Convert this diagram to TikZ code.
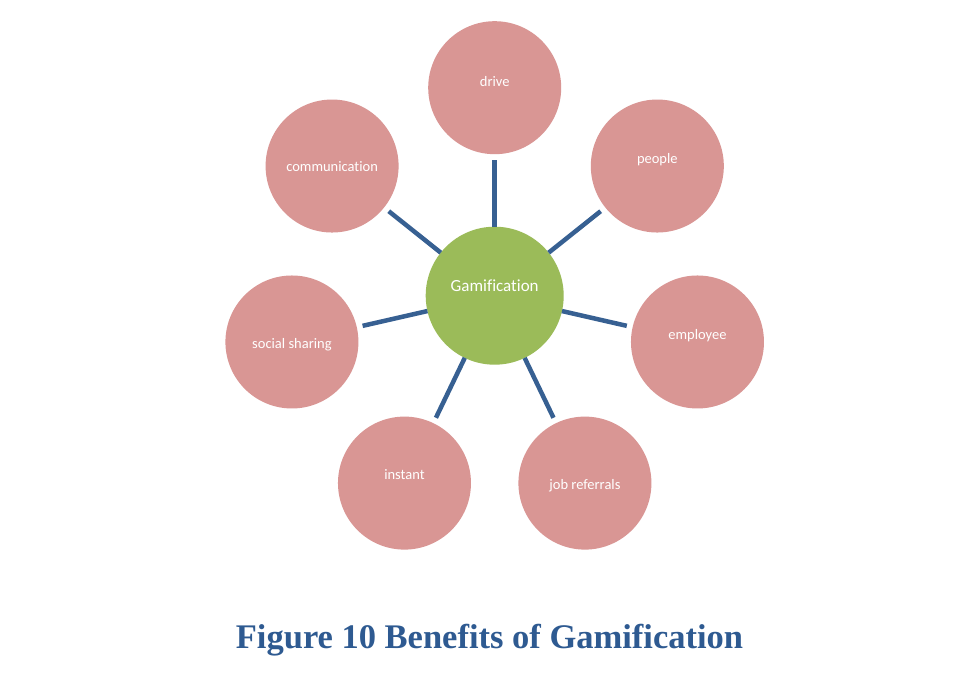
\documentclass[tikz,border=0pt]{standalone}
\usepackage{fontspec}
\setmainfont[Ligatures={NoCommon}]{Carlito}
\newfontfamily\capfont{Liberation Serif}
\definecolor{pinkc}{RGB}{217,150,148}
\definecolor{greenc}{RGB}{155,187,89}
\definecolor{spokec}{RGB}{55,96,146}
\definecolor{capc}{RGB}{46,90,145}
\begin{document}
\begin{tikzpicture}[x=1pt,y=1pt,
  outer/.style={circle,fill=pinkc,draw=none,inner sep=0pt,outer sep=0pt,minimum size=133pt},
  hub/.style={circle,fill=greenc,draw=none,inner sep=0pt,outer sep=0pt,minimum size=138pt},
  lbl/.style={text=white,font=\fontsize{14.5}{16}\selectfont,anchor=base,inner sep=0pt},
  hublbl/.style={text=white,font=\fontsize{17}{20}\selectfont,anchor=base,inner sep=0pt},
  spoke/.style={draw=spokec,line width=4.5pt,shorten >=6pt}]
\fill[white] (0,0) rectangle (980,691);
\useasboundingbox (0,0) rectangle (980,691);
\node[hub] (g) at (494.7,395.3) {};
\node[outer] (drive) at ([shift={(90:208)}]g.center) {};
\node[outer] (people) at ([shift={(38.57:208)}]g.center) {};
\node[outer] (employee) at ([shift={(-12.86:208)}]g.center) {};
\node[outer] (job) at ([shift={(-64.29:208)}]g.center) {};
\node[outer] (instant) at ([shift={(-115.71:208)}]g.center) {};
\node[outer] (social) at ([shift={(-167.14:208)}]g.center) {};
\node[outer] (comm) at ([shift={(141.43:208)}]g.center) {};
\foreach \n in {drive,people,employee,job,instant,social,comm}
  \draw[spoke] (g) -- (\n);
\node[hublbl] (gt) at ([yshift=4pt]g.center) {Gamification};
\node[lbl] (drivet) at ([yshift=1pt]drive.center) {drive};
\node[lbl] (peoplet) at ([yshift=2.7pt]people.center) {people};
\node[lbl] (employeet) at ([yshift=2.5pt]employee.center) {employee};
\node[lbl] (jobt) at ([yshift=-6.5pt]job.center) {job referrals};
\node[lbl] (instantt) at ([yshift=3.2pt]instant.center) {instant};
\node[lbl] (socialt) at ([yshift=-6.7pt]social.center) {social sharing};
\node[lbl] (commt) at ([yshift=-5.5pt]comm.center) {communication};
\node[text=capc,font=\capfont\bfseries\fontsize{34.5}{38}\selectfont,anchor=base,inner sep=0pt] (cap) at (489.5,42) {Figure 10 Benefits of Gamification};
\end{tikzpicture}
\end{document}
